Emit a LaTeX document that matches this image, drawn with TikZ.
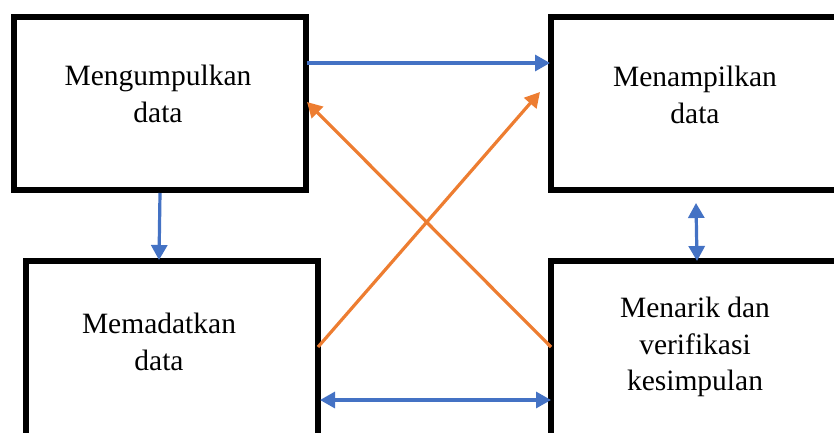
\documentclass[tikz,border=0pt]{standalone}
\usepackage{fontspec}
\setmainfont{Liberation Serif}
\usetikzlibrary{arrows.meta}
\definecolor{flowblue}{HTML}{4472C4}
\definecolor{floworange}{HTML}{ED7D31}
\begin{document}
\begin{tikzpicture}[x=1pt,y=-1pt,
  box/.style={draw=black,line width=6pt,minimum width=292pt,minimum height=173pt,
    inner sep=0pt,outer sep=0pt,anchor=north west},
  tallbox/.style={box,minimum height=200pt},
  lbl/.style={font=\fontsize{29.5}{36.5}\selectfont,align=center,inner sep=0pt,anchor=north},
  tip/.style={Triangle[length=15pt,width=16pt]},
  bluearrow/.style={draw=flowblue,line width=3.2pt,-{Triangle[length=15pt,width=16pt]}},
  bluedouble/.style={draw=flowblue,line width=3.2pt,
    {Triangle[length=15pt,width=16pt]}-{Triangle[length=15pt,width=16pt]}},
  orangearrow/.style={draw=floworange,line width=3.2pt,-{Triangle[length=15pt,width=16pt]}}]
\useasboundingbox (0,0) rectangle (834,432);
\clip (0,0) rectangle (834,432);

% the four stages of the analysis
\node[box] (collect) at (14,17) {};
\node[box] (display) at (550.5,17) {};
\node[tallbox] (reduce) at (26,261) {};
\node[tallbox] (conclude) at (550.5,261) {};

\node[lbl] (collectT) at (158,65) {Mengumpulkan\\data};
\node[lbl] (displayT) at (695,66) {Menampilkan\\data};
\node[lbl] (reduceT) at (159,313) {Memadatkan\\data};
\node[lbl] (concludeT) at (695,297) {Menarik dan\\verifikasi\\kesimpulan};

% connector end points on the box borders
\coordinate (c1) at (307,63);
\coordinate (d1) at (550,63);
\coordinate (c2) at (160,193);
\coordinate (r1) at (159,260);
\coordinate (d2) at (696,203);
\coordinate (k1) at (697,261);
\coordinate (r2) at (320,400);
\coordinate (k2) at (551,400);
\coordinate (r3) at (318,347);
\coordinate (d3) at (540,92);
\coordinate (k3) at (551,347);
\coordinate (c3) at (307,102);

\draw[bluearrow] (c1) -- (d1);
\draw[bluearrow] (c2) -- (r1);
\draw[bluedouble] (d2) -- (k1);
\draw[bluedouble] (r2) -- (k2);
\draw[orangearrow] (r3) -- (d3);
\draw[orangearrow] (k3) -- (c3);
\end{tikzpicture}
\end{document}
